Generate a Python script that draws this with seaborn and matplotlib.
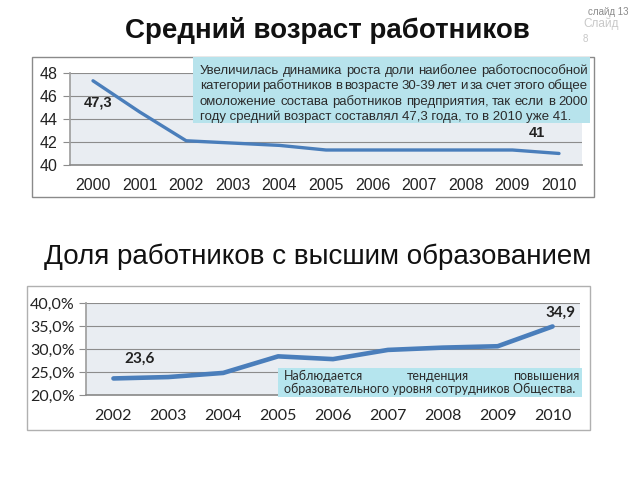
import matplotlib
matplotlib.use("Agg")
import matplotlib.pyplot as plt
import seaborn as sns
import pandas as pd
from matplotlib.patches import Rectangle

sns.set_theme(style="white")
plt.rcParams['font.family'] = ['Liberation Sans', 'DejaVu Sans']

# ---- data ----
age_years = ['2000', '2001', '2002', '2003', '2004', '2005', '2006', '2007', '2008', '2009', '2010']
age_values = [47.3, 44.6, 42.1, 41.9, 41.7, 41.3, 41.3, 41.3, 41.3, 41.3, 41.0]
age_ticks = [40, 42, 44, 46, 48]

edu_years = ['2002', '2003', '2004', '2005', '2006', '2007', '2008', '2009', '2010']
edu_values = [23.6, 23.9, 24.8, 28.4, 27.8, 29.8, 30.3, 30.6, 34.9]
edu_ticks = [20, 25, 30, 35, 40]
edu_tick_labels = ['20,0%', '25,0%', '30,0%', '35,0%', '40,0%']

title1 = 'Средний возраст работников'
title2 = 'Доля работников с высшим образованием'
note1 = ['Увеличилась динамика роста доли наиболее работоспособной',
         'категории работников в возрасте 30-39 лет и за счет этого общее',
         'омоложение состава работников предприятия, так если в 2000',
         'году средний возраст составлял 47,3 года, то в 2010 уже 41.']
note2 = ['Наблюдается тенденция повышения',
         'образовательного уровня сотрудников Общества.']

W, H = 640, 480
fig = plt.figure(figsize=(6.4, 4.8), dpi=100)
fig.patch.set_facecolor('white')


def rect_px(x0, y0, x1, y1):
    return [x0 / W, 1 - y1 / H, (x1 - x0) / W, (y1 - y0) / H]


def fx(x):
    return x / W


def fy(y):
    return 1 - y / H


line_color = '#4a7ebb'
grid_color = '#8c8c8c'
area_color = '#e9edf2'

# outer boxes
fig.patches.append(Rectangle((fx(32), fy(197)), (594 - 32) / W, (197 - 57) / H,
                             transform=fig.transFigure, facecolor='none',
                             edgecolor='#8a8a8a', linewidth=1.0, zorder=1))
fig.patches.append(Rectangle((fx(27), fy(430)), (590 - 27) / W, (430 - 286) / H,
                             transform=fig.transFigure, facecolor='none',
                             edgecolor='#b0b0b0', linewidth=1.0, zorder=1))

# ---- top chart ----
ax1 = fig.add_axes(rect_px(69.7, 72.7, 582.3, 165))
df1 = pd.DataFrame({'year': age_years, 'value': age_values})
sns.lineplot(data=df1, x='year', y='value', ax=ax1, color=line_color,
             linewidth=2.4, zorder=3)
ax1.set_xlim(-0.5, len(age_years) - 0.5)
ax1.set_ylim(age_ticks[0], age_ticks[-1])
ax1.set_yticks(age_ticks)
ax1.set_yticklabels([str(t) for t in age_ticks])
ax1.set_facecolor(area_color)
ax1.grid(axis='y', color=grid_color, linewidth=0.8)
ax1.set_axisbelow(True)
ax1.set_xlabel('')
ax1.set_ylabel('')
for s in ['top', 'right']:
    ax1.spines[s].set_visible(False)
ax1.spines['left'].set_color('#a0a0a0')
ax1.spines['bottom'].set_color(grid_color)
ax1.tick_params(axis='y', labelsize=11.5, colors='#222222', length=5, width=0.8,
                color=grid_color, pad=4, left=True)
ax1.tick_params(axis='x', labelsize=11.5, colors='#222222', length=0, pad=9)
ax1.annotate('47,3', xy=(0, age_values[0]), xytext=(4, -16), textcoords='offset points',
             ha='center', va='center', fontsize=10.5, fontweight='bold', color='#222222')
ax1.annotate('41', xy=(len(age_years) - 1, age_values[-1]), xytext=(-16, 15),
             textcoords='offset points', ha='center', va='center', fontsize=10.5,
             fontweight='bold', color='#222222')

# ---- bottom chart ----
ax2 = fig.add_axes(rect_px(86, 303, 580, 395))
df2 = pd.DataFrame({'year': edu_years, 'value': edu_values})
sns.lineplot(data=df2, x='year', y='value', ax=ax2, color=line_color,
             linewidth=3.3, zorder=3)
ax2.set_xlim(-0.5, len(edu_years) - 0.5)
ax2.set_ylim(edu_ticks[0], edu_ticks[-1])
ax2.set_yticks(edu_ticks)
ax2.set_yticklabels(edu_tick_labels)
ax2.set_facecolor(area_color)
ax2.grid(axis='y', color=grid_color, linewidth=0.8)
ax2.set_axisbelow(True)
ax2.set_xlabel('')
ax2.set_ylabel('')
for s in ['top', 'right']:
    ax2.spines[s].set_visible(False)
ax2.spines['left'].set_color('#a0a0a0')
ax2.spines['bottom'].set_color(grid_color)
for lab in ax2.get_yticklabels() + ax2.get_xticklabels():
    lab.set_family(['Lato', 'DejaVu Sans'])
ax2.tick_params(axis='y', labelsize=11.5, colors='#222222', length=5, width=0.8,
                color=grid_color, pad=3, left=True)
ax2.tick_params(axis='x', labelsize=11.5, colors='#222222', length=0, pad=10)
ax2.annotate('23,6', xy=(0, edu_values[0]), xytext=(19, 14), textcoords='offset points',
             ha='center', va='center', fontsize=11, fontweight='bold', color='#222222',
             family=['Lato', 'DejaVu Sans'])
ax2.annotate('34,9', xy=(len(edu_years) - 1, edu_values[-1]), xytext=(6, 10),
             textcoords='offset points', ha='center', va='center', fontsize=11,
             fontweight='bold', color='#222222', family=['Lato', 'DejaVu Sans'])

# ---- annotation boxes ----
fig.patches.append(Rectangle((fx(193), fy(123)), (590 - 193) / W, (123 - 57) / H,
                             transform=fig.transFigure, facecolor='#b7e3ec',
                             edgecolor='none', zorder=5))
fig.patches.append(Rectangle((fx(278), fy(397)), (582 - 278) / W, (397 - 368) / H,
                             transform=fig.transFigure, facecolor='#b5e5ee',
                             edgecolor='none', zorder=5))

renderer = fig.canvas.get_renderer()


def justified(lines, x0, x1, y_first, dy, justify_last=False, **kw):
    for i, line in enumerate(lines):
        y = fy(y_first + i * dy)
        last = (i == len(lines) - 1)
        words = line.split()
        if last and not justify_last:
            fig.text(fx(x0), y, line, ha='left', va='baseline', zorder=6, **kw)
            continue
        texts = [fig.text(0, y, w, ha='left', va='baseline', zorder=6, **kw) for w in words]
        widths = [t.get_window_extent(renderer).width for t in texts]
        gap = ((x1 - x0) - sum(widths)) / max(len(words) - 1, 1)
        x = x0
        for t, w in zip(texts, widths):
            t.set_x(fx(x))
            x += w + gap


justified(note1, 200, 588, 74, 15.3, fontsize=9.5, color='#2b2b2b')
justified(note2, 284, 579, 380, 13, fontsize=9.0, color='#2b2b2b',
          family=['Lato', 'DejaVu Sans'])

# ---- titles ----
fig.text(fx(327), fy(30), title1, ha='center', va='center', fontsize=20,
         fontweight='bold', color='#111111')
fig.text(fx(318), fy(257), title2, ha='center', va='center', fontsize=20,
         color='#111111')
fig.text(fx(629), fy(12), 'слайд 13', ha='right', va='center', fontsize=7, color='#8a8a8a')
fig.text(fx(583), fy(24), 'Слайд', ha='left', va='center', fontsize=8.5, color='#c8c8c8')
fig.text(fx(583), fy(39), '8', ha='left', va='center', fontsize=7, color='#c8c8c8')

fig.savefig('out.png', dpi=100)
